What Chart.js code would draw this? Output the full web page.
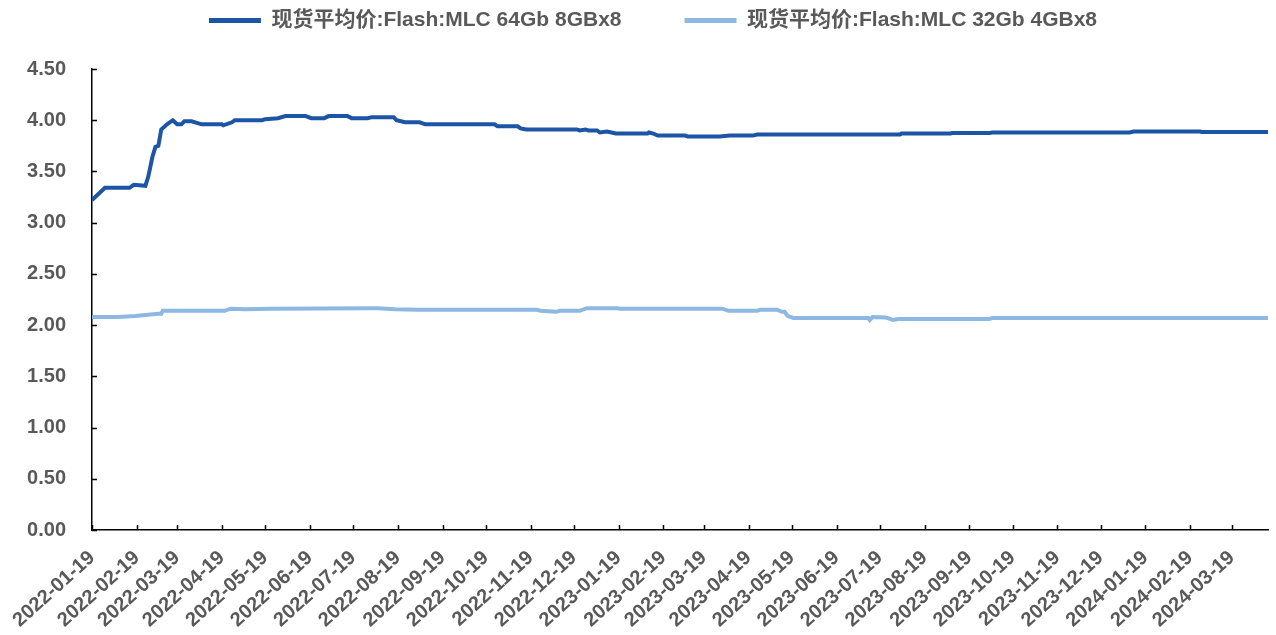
<!DOCTYPE html>
<html><head><meta charset="utf-8">
<script src="https://cdn.jsdelivr.net/npm/chart.js@4/dist/chart.umd.min.js"></script>
<style>html,body{margin:0;padding:0;background:#fff;}#wrap{width:1276px;height:635px;}</style>
</head><body><div id="wrap"><canvas id="c" width="1276" height="635"></canvas></div>
<script>
const seriesNames = ['现货平均价:Flash:MLC 64Gb 8GBx8', '现货平均价:Flash:MLC 32Gb 4GBx8'];
const startDate = '2022-01-19';
const endDate = '2024-04-13';
const tickLabels = ['2022-01-19','2022-02-19','2022-03-19','2022-04-19','2022-05-19','2022-06-19','2022-07-19','2022-08-19','2022-09-19','2022-10-19','2022-11-19','2022-12-19','2023-01-19','2023-02-19','2023-03-19','2023-04-19','2023-05-19','2023-06-19','2023-07-19','2023-08-19','2023-09-19','2023-10-19','2023-11-19','2023-12-19','2024-01-19','2024-02-19','2024-03-19'];
const yTickValues = [0, 0.5, 1, 1.5, 2, 2.5, 3, 3.5, 4, 4.5];

const dates64 = ['2022-01-19','2022-01-28','2022-02-14','2022-02-17','2022-02-25','2022-02-27','2022-03-02','2022-03-04','2022-03-06','2022-03-08','2022-03-12','2022-03-16','2022-03-19','2022-03-22','2022-03-24','2022-03-29','2022-04-05','2022-04-19','2022-04-20','2022-04-26','2022-04-28','2022-05-17','2022-05-19','2022-05-28','2022-06-02','2022-06-16','2022-06-20','2022-06-29','2022-07-02','2022-07-15','2022-07-18','2022-07-29','2022-08-01','2022-08-16','2022-08-18','2022-08-24','2022-09-03','2022-09-07','2022-10-25','2022-10-27','2022-11-10','2022-11-12','2022-11-16','2022-12-21','2022-12-23','2022-12-27','2022-12-29','2023-01-04','2023-01-06','2023-01-11','2023-01-17','2023-02-08','2023-02-09','2023-02-12','2023-02-15','2023-03-06','2023-03-08','2023-03-30','2023-04-06','2023-04-22','2023-04-25','2023-08-02','2023-08-03','2023-09-06','2023-09-07','2023-10-03','2023-10-05','2024-01-08','2024-01-11','2024-02-26','2024-02-27','2024-04-13'];
const values64 = [3.22,3.34,3.34,3.37,3.36,3.45,3.65,3.74,3.75,3.91,3.96,4.00,3.96,3.96,3.99,3.99,3.96,3.96,3.95,3.98,4.00,4.00,4.01,4.02,4.04,4.04,4.02,4.02,4.04,4.04,4.02,4.02,4.03,4.03,4.00,3.98,3.98,3.96,3.96,3.94,3.94,3.92,3.91,3.91,3.90,3.91,3.90,3.90,3.88,3.89,3.87,3.87,3.88,3.87,3.85,3.85,3.84,3.84,3.85,3.85,3.86,3.86,3.87,3.87,3.875,3.875,3.88,3.88,3.89,3.89,3.885,3.885];

const dates32 = ['2022-01-19','2022-02-06','2022-02-18','2022-03-06','2022-03-08','2022-03-09','2022-04-21','2022-04-25','2022-05-05','2022-05-24','2022-07-29','2022-08-05','2022-08-17','2022-09-02','2022-11-23','2022-11-26','2022-12-07','2022-12-09','2022-12-23','2022-12-28','2023-01-18','2023-01-20','2023-04-01','2023-04-05','2023-04-25','2023-04-27','2023-05-09','2023-05-12','2023-05-14','2023-05-16','2023-05-20','2023-07-11','2023-07-12','2023-07-14','2023-07-23','2023-07-26','2023-07-28','2023-08-01','2023-10-03','2023-10-05','2024-04-13'];
const values32 = [2.08,2.08,2.09,2.11,2.11,2.14,2.14,2.16,2.155,2.16,2.165,2.165,2.155,2.15,2.15,2.14,2.13,2.14,2.14,2.165,2.165,2.16,2.16,2.14,2.14,2.15,2.15,2.13,2.13,2.09,2.07,2.07,2.05,2.08,2.075,2.06,2.05,2.06,2.06,2.07,2.07];

function dayOf(s) {
  const [y, m, d] = s.split('-').map(Number);
  const [y0, m0, d0] = startDate.split('-').map(Number);
  return Math.round((Date.UTC(y, m - 1, d) - Date.UTC(y0, m0 - 1, d0)) / 86400000);
}
const tickDays = tickLabels.map(dayOf);
const labelByDay = {};
tickLabels.forEach((t, i) => { labelByDay[tickDays[i]] = t; });

const FONT = "'Liberation Sans', Arial, 'Noto Sans CJK SC', sans-serif";
const TEXT = '#595959';
const LEGEND_H = 69;
const LEGEND_DY = -53;
const LEGEND_DX = 19;

const layoutFix = {
  id: 'layoutFix',
  beforeLayout(chart) {
    const lg = chart.legend;
    if (lg && !lg._wrapped) {
      const orig = lg.fit.bind(lg);
      lg.fit = function () { orig(); this.height = LEGEND_H; };
      lg._wrapped = true;
    }
  },
  afterLayout(chart) {
    const lg = chart.legend;
    if (lg) {
      lg.top += LEGEND_DY;
      lg.height = lg.bottom - lg.top;
      lg.left += LEGEND_DX; lg.right += LEGEND_DX;
      lg.width = lg.right - lg.left;
    }
  },
  afterDraw(chart) {
    const ctx = chart.ctx, xs = chart.scales.x, ys = chart.scales.y;
    ctx.save();
    ctx.strokeStyle = '#000';
    ctx.lineWidth = 1.5;
    ctx.beginPath();
    xs.ticks.forEach(t => {
      const px = Math.round(xs.getPixelForValue(t.value)) + 0.5;
      ctx.moveTo(px, xs.top); ctx.lineTo(px, xs.top - 5);
    });
    ys.ticks.forEach(t => {
      const py = Math.round(ys.getPixelForValue(t.value)) + 0.5;
      ctx.moveTo(ys.right, py); ctx.lineTo(ys.right + 5, py);
    });
    ctx.stroke();
    ctx.restore();
  }
};

new Chart(document.getElementById('c'), {
  type: 'line',
  data: {
    datasets: [
      { label: seriesNames[0], data: dates64.map((d, i) => ({ x: dayOf(d), y: values64[i] })),
        borderColor: '#1c55a5', backgroundColor: '#1c55a5', borderWidth: 4, pointRadius: 0, tension: 0 },
      { label: seriesNames[1], data: dates32.map((d, i) => ({ x: dayOf(d), y: values32[i] })),
        borderColor: '#8cb8e2', backgroundColor: '#8cb8e2', borderWidth: 4, pointRadius: 0, tension: 0 }
    ]
  },
  options: {
    responsive: false,
    animation: false,
    devicePixelRatio: 1,
    layout: { padding: { top: 0, right: 8, left: 0, bottom: 0 } },
    plugins: {
      tooltip: { enabled: false },
      legend: {
        display: true,
        position: 'top',
        labels: {
          boxWidth: 52, boxHeight: 5, padding: 63, color: TEXT,
          font: { family: FONT, size: 21, weight: 'bold' },
          generateLabels(chart) {
            return Chart.defaults.plugins.legend.labels.generateLabels(chart).map(l => Object.assign(l, { lineWidth: 0 }));
          }
        }
      }
    },
    scales: {
      x: {
        type: 'linear', position: 'bottom', min: 0, max: dayOf(endDate),
        grid: { display: false },
        border: { display: true, color: '#000', width: 1.5 },
        afterBuildTicks(s) { s.ticks = tickDays.map(v => ({ value: v })); },
        afterFit(s) { s.height = 105; },
        ticks: {
          autoSkip: false, minRotation: 42, maxRotation: 42, padding: 8,
          color: TEXT, font: { family: FONT, size: 20, weight: 'bold' },
          callback(v) { return labelByDay[v] !== undefined ? labelByDay[v] : ''; }
        }
      },
      y: {
        type: 'linear', min: 0, max: 4.5,
        grid: { display: false },
        border: { display: true, color: '#000', width: 1.5 },
        afterBuildTicks(s) { s.ticks = yTickValues.map(v => ({ value: v })); },
        afterFit(s) { s.width = 92; },
        ticks: {
          padding: 18, color: TEXT, font: { family: FONT, size: 20, weight: 'bold' },
          callback(v) { return Number(v).toFixed(2); }
        }
      }
    }
  },
  plugins: [layoutFix]
});
</script>
</body></html>
